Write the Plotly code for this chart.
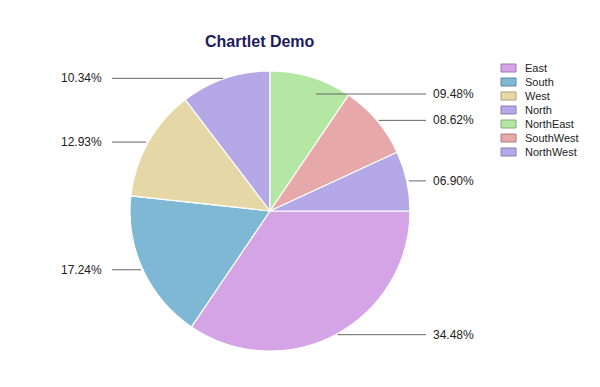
import math
import plotly.graph_objects as go

labels = ["East", "South", "West", "North", "NorthEast", "SouthWest", "NorthWest"]
values = [40, 20, 15, 12, 11, 10, 8]
colors = ["#D4A4E6", "#7FB8D4", "#E6D8A6", "#B4A8E6", "#B4E6A4", "#E6A8A8", "#B4A8E6"]
borders = ["#9E7AAE", "#5A8AA2", "#AEA27A", "#8A7EAE", "#84AE78", "#AE7E7E", "#8A7EAE"]

W, H = 600, 387
OFFX, OFFY = 8, 7  # page body margin offset
CX, CY, R = 270, 210, 140  # pie centre / radius in window pixels

def px(x):
    return (x - OFFX) / W

def py(y):
    return 1 - (y - OFFY) / H

fig = go.Figure(go.Pie(
    labels=labels, values=values, sort=False, direction="clockwise", rotation=90,
    marker=dict(colors=colors, line=dict(color="white", width=1.2)),
    textinfo="none", hoverinfo="label+percent", showlegend=False,
    domain=dict(x=[px(CX - R), px(CX + R)], y=[py(CY + R), py(CY - R)]),
))

shapes = []
annotations = []
total = sum(values)
cum = 0
for lab, v in zip(labels, values):
    mid = (cum + v / 2) / total * 2 * math.pi  # clockwise from 3 o'clock
    cum += v
    cx, cy = math.cos(mid), math.sin(mid)
    ex, ey = CX + R * cx, CY + R * cy
    right = cx >= 0
    ly = ey
    if right and ly < 93:
        ly = 93
        r2 = (CY - ly) / -cy
        ex = CX + r2 * cx + 8
    text = "%05.2f%%" % (100 * v / total)
    if right:
        x0, x1 = ex + 2, 426
        annotations.append(dict(x=px(431), y=py(ly), xref="paper", yref="paper", text=text,
                                showarrow=False, xanchor="left", yanchor="middle",
                                font=dict(family="Liberation Sans, Arial", size=12, color="#222")))
    else:
        x0, x1 = 112, ex - 2
        annotations.append(dict(x=px(104), y=py(ly), xref="paper", yref="paper", text=text,
                                showarrow=False, xanchor="right", yanchor="middle",
                                font=dict(family="Liberation Sans, Arial", size=12, color="#222")))
    shapes.append(dict(type="line", xref="paper", yref="paper", x0=px(x0), x1=px(x1),
                       y0=py(ly), y1=py(ly), line=dict(color="#666", width=1)))

# custom legend
for i, (lab, c, b) in enumerate(zip(labels, colors, borders)):
    yc = 67 + 14 * i
    shapes.append(dict(type="rect", xref="paper", yref="paper", x0=px(501), x1=px(516),
                       y0=py(yc - 4), y1=py(yc + 4), fillcolor=c, line=dict(color=b, width=1)))
    annotations.append(dict(x=px(523), y=py(yc), xref="paper", yref="paper", text=lab,
                            showarrow=False, xanchor="left", yanchor="middle",
                            font=dict(family="Liberation Sans, Arial", size=11, color="#222")))

annotations.append(dict(x=px(260), y=py(40), xref="paper", yref="paper",
                        text="<b>Chartlet Demo</b>", showarrow=False, xanchor="center", yanchor="middle",
                        font=dict(family="Liberation Sans, Arial", size=16, color="#1C1C5E")))

fig.update_layout(
    width=W, height=H, margin=dict(l=0, r=0, t=0, b=0),
    paper_bgcolor="white", plot_bgcolor="white",
    shapes=shapes, annotations=annotations,
)
fig.write_html("out.html")
